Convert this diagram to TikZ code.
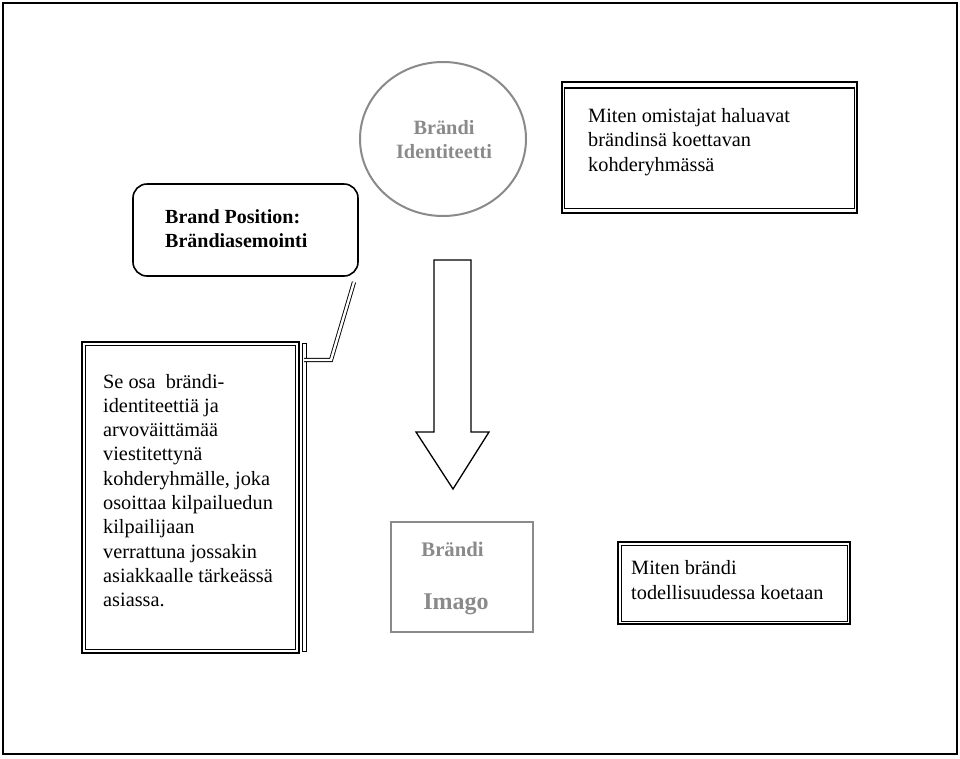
\documentclass[tikz,border=0pt]{standalone}
\usepackage{fontspec}
\setmainfont{Liberation Serif}
\usetikzlibrary{shapes.geometric}
\definecolor{softgray}{HTML}{8A8A8A}
\tikzset{
  box/.style={draw, line width=1.3pt, inner sep=0pt, minimum width=#1},
  txt/.style={align=left, inner sep=0pt, anchor=west, font=\fontsize{20.3}{24.3}\selectfont},
  hollow/.style={draw=black, line width=0.9pt, double=white, double distance=2.4pt},
}
\begin{document}
\begin{tikzpicture}[x=1pt,y=-1pt]
\useasboundingbox (0,0) rectangle (960,758);
\fill[white] (0,0) rectangle (960,758);
% outer frame
\node[draw, line width=2pt, minimum width=954pt, minimum height=751pt, inner sep=0pt] (frame) at (480,378.5) {};
% circle
\node[ellipse, draw=softgray, line width=2pt, minimum width=166pt, minimum height=154pt, inner sep=0pt] (ident) at (443,139) {};
\node[align=center, inner sep=0pt, text=softgray, font=\fontsize{20.3}{24}\selectfont\bfseries] (identtxt) at (444,140) {Brändi\\Identiteetti};
% brand position rounded box
\node[draw, line width=1.6pt, rounded corners=14pt, minimum width=225pt, minimum height=92pt, inner sep=0pt] (pos) at (245.5,230) {};
\node[txt, font=\fontsize{20}{24}\selectfont\bfseries] (postxt) at (165,229) {Brand Position:\\Brändiasemointi};
% top right box
\node[box=295pt, minimum height=131pt] (tr) at (709.5,147.5) {};
\draw[line width=1.3pt] ([xshift=3pt,yshift=-6.5pt]tr.north west) rectangle ([xshift=-3.5pt,yshift=5.5pt]tr.south east);
\node[txt] (trtxt) at (588,142) {Miten omistajat haluavat\\brändinsä koettavan\\kohderyhmässä};
% left box
\node[box=217pt, minimum height=311pt] (left) at (190.5,497.5) {};
\draw[line width=1.3pt] ([xshift=4pt,yshift=-4pt]left.north west) rectangle ([xshift=-4pt,yshift=4pt]left.south east);
\node[txt] (lefttxt) at (103,490.5) {Se osa\ \ brändi-\\identiteettiä ja\\arvoväittämää\\viestitettynä\\kohderyhmälle, joka\\osoittaa kilpailuedun\\kilpailijaan\\verrattuna jossakin\\asiakkaalle tärkeässä\\asiassa.};
% thin bar
\node[draw, line width=1pt, minimum width=4pt, minimum height=308pt, inner sep=0pt] (bar) at (304,497) {};
% connector
\coordinate (c1) at (331,360);
\coordinate (c2) at (354,282);
\draw[hollow, line join=miter] (bar.center |- c1) -- (c1) -- (c2);
% block arrow
\draw[line width=1.3pt, line join=miter] (434,260) -- (471,260) -- (471,432) -- (489,432) -- (453,489) -- (416,432) -- (434,432) -- cycle;
% imago box
\node[draw=softgray, line width=2pt, minimum width=142pt, minimum height=110pt, inner sep=0pt] (imago) at (462,577) {};
\node[inner sep=0pt, text=softgray, font=\fontsize{20.7}{24}\selectfont\bfseries] (imago1) at (452.5,549) {Brändi};
\node[inner sep=0pt, text=softgray, font=\fontsize{24}{28}\selectfont\bfseries] (imago2) at (456,604) {Imago};
% bottom right box
\node[box=232pt, minimum height=82pt] (br) at (734,583) {};
\draw[line width=1.3pt] ([xshift=4pt,yshift=-4pt]br.north west) rectangle ([xshift=-3.5pt,yshift=3.5pt]br.south east);
\node[txt] (brtxt) at (631,580) {Miten brändi\\todellisuudessa koetaan};
\end{tikzpicture}
\end{document}
